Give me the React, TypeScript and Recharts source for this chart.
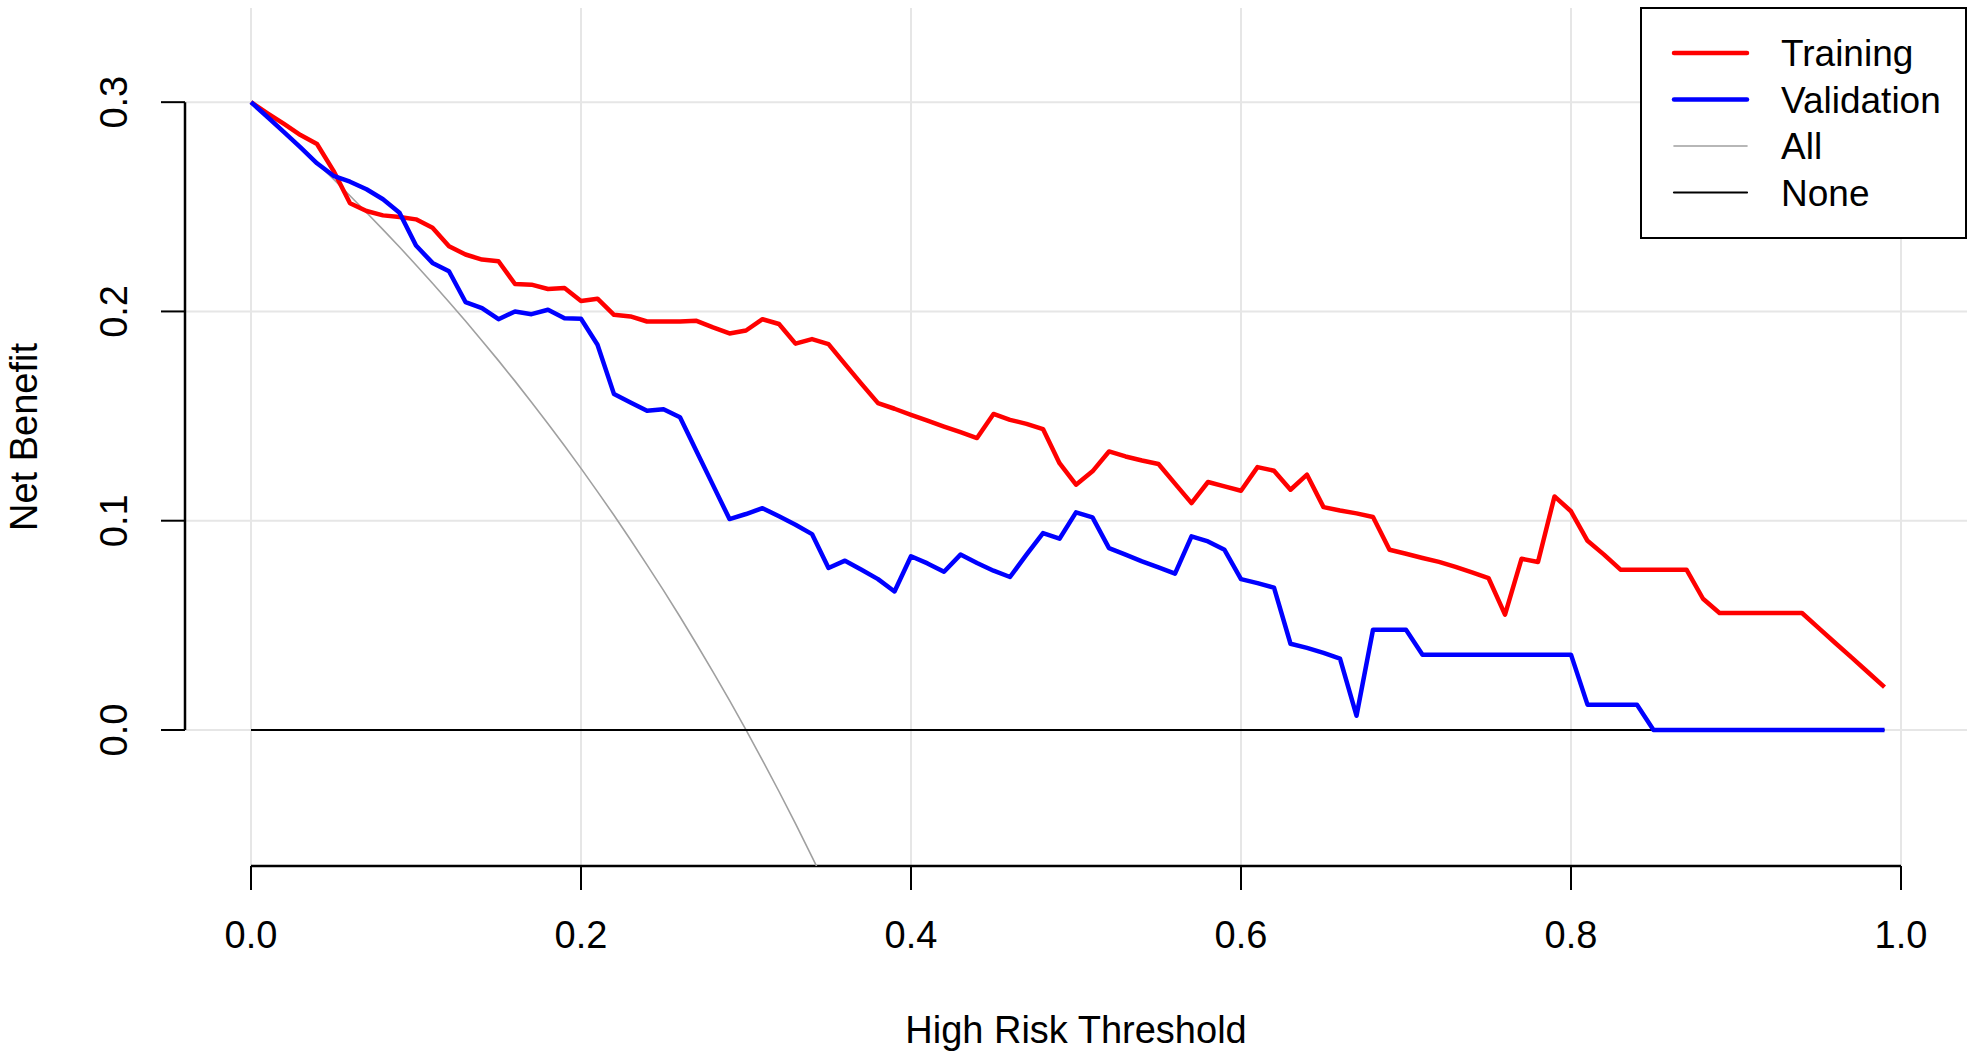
import React from 'react';
import { LineChart, Line, XAxis, YAxis, CartesianGrid, ReferenceLine, Legend } from 'recharts';

const thresholds = [
  0.0, 0.01, 0.02, 0.03, 0.04, 0.05, 0.06, 0.07, 0.08, 0.09,
  0.1, 0.11, 0.12, 0.13, 0.14, 0.15, 0.16, 0.17, 0.18, 0.19,
  0.2, 0.21, 0.22, 0.23, 0.24, 0.25, 0.26, 0.27, 0.28, 0.29,
  0.3, 0.31, 0.32, 0.33, 0.34, 0.35, 0.36, 0.37, 0.38, 0.39,
  0.4, 0.41, 0.42, 0.43, 0.44, 0.45, 0.46, 0.47, 0.48, 0.49,
  0.5, 0.51, 0.52, 0.53, 0.54, 0.55, 0.56, 0.57, 0.58, 0.59,
  0.6, 0.61, 0.62, 0.63, 0.64, 0.65, 0.66, 0.67, 0.68, 0.69,
  0.7, 0.71, 0.72, 0.73, 0.74, 0.75, 0.76, 0.77, 0.78, 0.79,
  0.8, 0.81, 0.82, 0.83, 0.84, 0.85, 0.86, 0.87, 0.88, 0.89,
  0.9, 0.91, 0.92, 0.93, 0.94, 0.95, 0.96, 0.97, 0.98, 0.99,
];

const training = [
  0.300, 0.2947, 0.2896, 0.2843, 0.2800, 0.2672, 0.2517, 0.2480, 0.2459, 0.2451,
  0.2440, 0.2400, 0.2312, 0.2272, 0.2248, 0.2240, 0.2131, 0.2128, 0.2107, 0.2112,
  0.2050, 0.2061, 0.1984, 0.1976, 0.1952, 0.1952, 0.1952, 0.1955, 0.1924, 0.1895,
  0.1909, 0.1963, 0.1940, 0.1846, 0.1868, 0.1844, 0.1748, 0.1654, 0.1562, 0.1535,
  0.1506, 0.1478, 0.1450, 0.1423, 0.1395, 0.1510, 0.1482, 0.1463, 0.1438, 0.1275,
  0.1172, 0.1236, 0.1331, 0.1307, 0.1288, 0.1271, 0.1177, 0.1084, 0.1185, 0.1164,
  0.1143, 0.1256, 0.1239, 0.1148, 0.1220, 0.1065, 0.1049, 0.1035, 0.1018, 0.0861,
  0.0842, 0.0822, 0.0803, 0.0779, 0.0753, 0.0726, 0.0551, 0.0818, 0.0803, 0.1116,
  0.1045, 0.0904, 0.0838, 0.0766, 0.0766, 0.0766, 0.0766, 0.0766, 0.0627, 0.0559,
  0.0559, 0.0559, 0.0559, 0.0559, 0.0559, 0.0488, 0.0417, 0.0347, 0.0276, 0.0205,
];

const validation = [
  0.300, 0.2929, 0.2857, 0.2784, 0.2708, 0.2648, 0.2620, 0.2584, 0.2536, 0.2472,
  0.2315, 0.2232, 0.2192, 0.2045, 0.2016, 0.1963, 0.2000, 0.1987, 0.2008, 0.1968,
  0.1965, 0.1841, 0.1605, 0.1565, 0.1525, 0.1533, 0.1494, 0.1332, 0.1170, 0.1008,
  0.1032, 0.1060, 0.1021, 0.0981, 0.0936, 0.0774, 0.0809, 0.0766, 0.0721, 0.0662,
  0.0830, 0.0796, 0.0756, 0.0838, 0.0798, 0.0761, 0.0731, 0.0838, 0.0941, 0.0914,
  0.1040, 0.1016, 0.0869, 0.0838, 0.0806, 0.0777, 0.0747, 0.0925, 0.0901, 0.0861,
  0.0721, 0.0702, 0.0680, 0.0412, 0.0392, 0.0368, 0.0341, 0.0068, 0.0479, 0.0479,
  0.0479, 0.0360, 0.0360, 0.0360, 0.0360, 0.0360, 0.0360, 0.0360, 0.0360, 0.0360,
  0.0360, 0.0121, 0.0121, 0.0121, 0.0121, 0.0, 0.0, 0.0, 0.0, 0.0,
  0.0, 0.0, 0.0, 0.0, 0.0, 0.0, 0.0, 0.0, 0.0, 0.0,
];

// "Treat all" curve (it leaves the plot below the x axis near 0.34)
const treatAll = [
  0.300, 0.2929, 0.2857, 0.2784, 0.2708, 0.2632, 0.2553, 0.2473, 0.2391, 0.2308,
  0.2222, 0.2135, 0.2045, 0.1954, 0.1860, 0.1765, 0.1667, 0.1566, 0.1463, 0.1358,
  0.1250, 0.1139, 0.1026, 0.0909, 0.0789, 0.0667, 0.0541, 0.0411, 0.0278, 0.0141,
  0.0, -0.0145, -0.0294, -0.0448, -0.0606, -0.0769,
];

const treatNone = [
  0, 0, 0, 0, 0, 0, 0, 0, 0, 0,
  0, 0, 0, 0, 0, 0, 0, 0, 0, 0,
  0, 0, 0, 0, 0, 0, 0, 0, 0, 0,
  0, 0, 0, 0, 0, 0, 0, 0, 0, 0,
  0, 0, 0, 0, 0, 0, 0, 0, 0, 0,
  0, 0, 0, 0, 0, 0, 0, 0, 0, 0,
  0, 0, 0, 0, 0, 0, 0, 0, 0, 0,
  0, 0, 0, 0, 0, 0, 0, 0, 0, 0,
  0, 0, 0, 0, 0, 0, 0, 0, 0, 0,
  0, 0, 0, 0, 0, 0, 0, 0, 0, 0,
];

const xTicks = [0, 0.2, 0.4, 0.6, 0.8, 1.0];
const yTicks = [0, 0.1, 0.2, 0.3];
const xDomain = [-0.04, 1.04];
const yDomain = [-0.065, 0.345];

const legendNames = ['Training', 'Validation', 'All', 'None'];

const FONT = '"Liberation Sans", Arial, Helvetica, sans-serif';

const seriesStyle = [
  { key: 'training', color: '#ff0000', width: 4.5 },
  { key: 'validation', color: '#0000ff', width: 4.5 },
  { key: 'all', color: '#a0a0a0', width: 1.6 },
  { key: 'none', color: '#000000', width: 2.2 },
];

const data = thresholds.map((t, i) => ({
  t,
  training: training[i],
  validation: validation[i],
  all: i < treatAll.length ? treatAll[i] : null,
  none: treatNone[i],
}));

const YTick = (props: any) => {
  const { x, y, payload } = props;
  return (
    <text
      x={x}
      y={y}
      transform={`rotate(-90 ${x} ${y})`}
      textAnchor="middle"
      fontSize={38}
      fontFamily={FONT}
      fill="#000"
    >
      {Number(payload.value).toFixed(1)}
    </text>
  );
};

const XLabel = (props: any) => {
  const vb = props.viewBox || {};
  const cx = vb.x + vb.width / 2;
  return (
    <text x={cx} y={vb.y + 177} textAnchor="middle" fontSize={38} fontFamily={FONT} fill="#000">
      High Risk Threshold
    </text>
  );
};

const YLabel = (props: any) => {
  const vb = props.viewBox || {};
  const cx = vb.x + 37;
  const cy = vb.y + vb.height / 2;
  return (
    <text
      x={cx}
      y={cy}
      transform={`rotate(-90 ${cx} ${cy})`}
      textAnchor="middle"
      fontSize={38}
      fontFamily={FONT}
      fill="#000"
    >
      Net Benefit
    </text>
  );
};

const LegendBox = () => (
  <div
    style={{
      width: 327,
      height: 232,
      border: '2px solid #000',
      boxSizing: 'border-box',
      background: '#fff',
    }}
  >
    <svg width={323} height={228} style={{ display: 'block' }}>
      {seriesStyle.map((s, i) => {
        const cy = 44 + i * 46.5;
        return (
          <g key={s.key}>
            <line
              x1={32}
              x2={105}
              y1={cy}
              y2={cy}
              stroke={s.color}
              strokeWidth={s.width}
              strokeLinecap="round"
            />
            <text x={139} y={cy + 13} fontSize={37} fontFamily={FONT} fill="#000">
              {legendNames[i]}
            </text>
          </g>
        );
      })}
    </svg>
  </div>
);

export default function App() {
  return (
    <div style={{ position: 'absolute', left: 0, top: 0, width: 1969, height: 1057, background: '#fff' }}>
      <LineChart
        width={1969}
        height={1057}
        data={data}
        margin={{ top: 8, right: 2, bottom: 0, left: 0 }}
      >
        <CartesianGrid stroke="#e6e6e6" strokeWidth={2} syncWithTicks />
        <XAxis
          dataKey="t"
          type="number"
          domain={xDomain}
          ticks={xTicks}
          allowDataOverflow
          height={191}
          axisLine={false}
          tickLine={{ stroke: '#000', strokeWidth: 2 }}
          tickSize={24}
          tickMargin={31}
          tick={{ fill: '#000', fontSize: 38, fontFamily: FONT }}
          tickFormatter={(v: number) => v.toFixed(1)}
          interval={0}
          label={XLabel}
        />
        <YAxis
          type="number"
          domain={yDomain}
          ticks={yTicks}
          allowDataOverflow
          width={185}
          axisLine={false}
          tickLine={{ stroke: '#000', strokeWidth: 2 }}
          tickSize={24}
          tickMargin={34}
          tick={YTick}
          interval={0}
          label={YLabel}
        />
        <ReferenceLine
          segment={[{ x: 0, y: yDomain[0] }, { x: 1, y: yDomain[0] }]}
          stroke="#000"
          strokeWidth={2.5}
          ifOverflow="visible"
        />
        <ReferenceLine
          segment={[{ x: xDomain[0], y: 0 }, { x: xDomain[0], y: 0.3 }]}
          stroke="#000"
          strokeWidth={2.5}
          ifOverflow="visible"
        />
        <Line dataKey="all" stroke="#a0a0a0" strokeWidth={1.6} dot={false} isAnimationActive={false} name="All" />
        <Line dataKey="none" stroke="#000" strokeWidth={2.2} dot={false} isAnimationActive={false} name="None" />
        <Line dataKey="training" stroke="#ff0000" strokeWidth={4.5} strokeLinejoin="round" dot={false} isAnimationActive={false} name="Training" />
        <Line dataKey="validation" stroke="#0000ff" strokeWidth={4.5} strokeLinejoin="round" dot={false} isAnimationActive={false} name="Validation" />
        <Legend
          layout="vertical"
          align="center"
          verticalAlign="middle"
          content={LegendBox}
          wrapperStyle={{ position: 'absolute', left: 1640, top: 7, width: 327, height: 232 }}
        />
      </LineChart>
    </div>
  );
}
